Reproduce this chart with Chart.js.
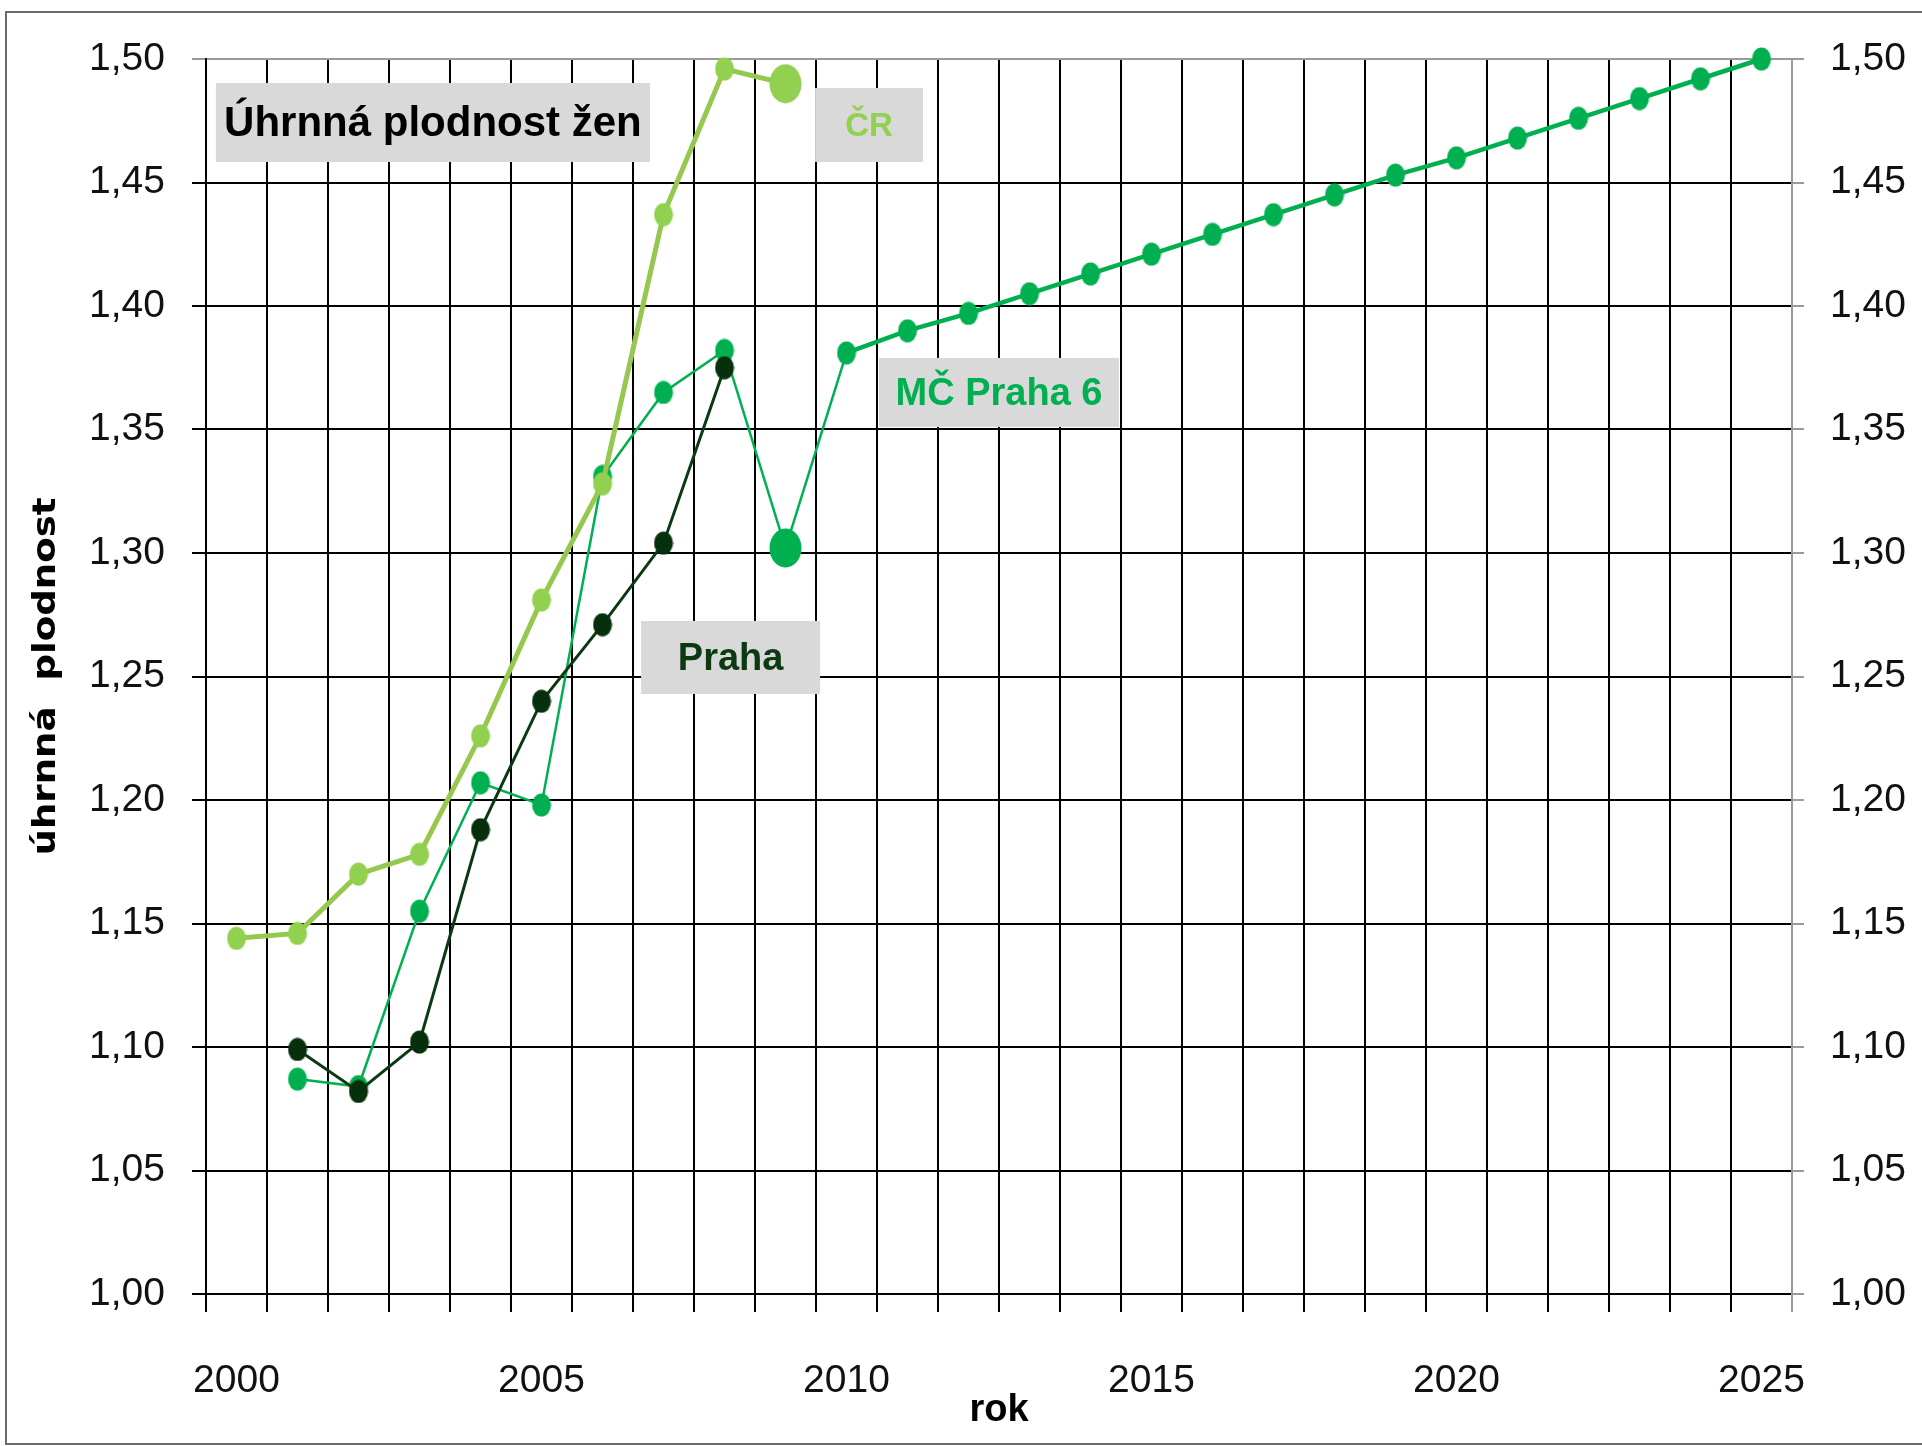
<!DOCTYPE html>
<html lang="cs">
<head>
<meta charset="utf-8">
<title>Úhrnná plodnost žen</title>
<script src="https://cdn.jsdelivr.net/npm/chart.js@4.4.0/dist/chart.umd.min.js"></script>
<style>
  html, body { margin: 0; padding: 0; background: #fff; }
  #obal { position: relative; width: 1922px; height: 1446px; }
</style>
</head>
<body>
<div id="obal"><canvas id="graf"></canvas></div>
<script>
// Roky na ose x
var roky = [2000, 2001, 2002, 2003, 2004, 2005, 2006, 2007, 2008, 2009,
  2010, 2011, 2012, 2013, 2014, 2015, 2016, 2017, 2018, 2019,
  2020, 2021, 2022, 2023, 2024, 2025];

// Úhrnná plodnost - ČR
var plodnostCR = [1.144, 1.146, 1.170, 1.178, 1.226, 1.281, 1.328, 1.437, 1.496, 1.490,
  null, null, null, null, null, null, null, null, null, null,
  null, null, null, null, null, null];

// Úhrnná plodnost - Praha
var plodnostPraha = [null, 1.099, 1.082, 1.102, 1.188, 1.240, 1.271, 1.304, 1.375, null,
  null, null, null, null, null, null, null, null, null, null,
  null, null, null, null, null, null];

// Úhrnná plodnost - MČ Praha 6 (od roku 2010 prognóza)
var plodnostPraha6 = [null, 1.087, 1.084, 1.155, 1.207, 1.198, 1.331, 1.365, 1.382, 1.302,
  1.381, 1.390, 1.397, 1.405, 1.413, 1.421, 1.429, 1.437, 1.445, 1.453,
  1.460, 1.468, 1.476, 1.484, 1.492, 1.500];

// Rozsah osy y
var osaYMin = 1.0;
var osaYMax = 1.5;
var osaYKrok = 0.05;

var PISMO = "'Liberation Sans', Arial, sans-serif";

// Elipsa jako značka bodu (Excel je mírně protáhl)
function elipsa(barva, sirka, vyska) {
  var c = document.createElement("canvas");
  c.width = sirka;
  c.height = vyska;
  var g = c.getContext("2d");
  g.fillStyle = barva;
  g.beginPath();
  g.ellipse(sirka / 2, vyska / 2, sirka / 2 - 0.5, vyska / 2 - 0.5, 0, 0, Math.PI * 2);
  g.fill();
  return c;
}

function znacky(data, barva, velkyRok) {
  var mala = elipsa(barva, 20, 24);
  var velka = elipsa(barva, 33, 40);
  return data.map(function (v, i) {
    return roky[i] === velkyRok ? velka : mala;
  });
}

function formatCisla(v) {
  return Number(v).toFixed(2).replace(".", ",");
}

// Šedé rámečky s popisky (poloha v souřadnicích grafu)
var stitky = [
  { text: "Úhrnná plodnost žen", barva: "#000000", x: 3.22, y: 1.4743, w: 434, h: 79, pismo: "bold 42px " + PISMO },
  { text: "ČR", barva: "#92d050", x: 10.37, y: 1.4733, w: 108, h: 74, pismo: "bold 33px " + PISMO },
  { text: "MČ Praha 6", barva: "#00b050", x: 12.5, y: 1.365, w: 240, h: 69, pismo: "bold 38px " + PISMO },
  { text: "Praha", barva: "#0b3a12", x: 8.1, y: 1.2577, w: 179, h: 73, pismo: "bold 38px " + PISMO }
];

var pluginStitky = {
  id: "stitky",
  beforeDatasetsDraw: function (chart) {
    var ctx = chart.ctx;
    var sx = chart.scales.x;
    var sy = chart.scales.y;
    ctx.save();
    stitky.forEach(function (s) {
      var cx = sx.getPixelForValue(s.x);
      var cy = sy.getPixelForValue(s.y);
      ctx.fillStyle = "#d9d9d9";
      ctx.fillRect(cx - s.w / 2, cy - s.h / 2, s.w, s.h);
      ctx.fillStyle = s.barva;
      ctx.font = s.pismo;
      ctx.textAlign = "center";
      ctx.textBaseline = "middle";
      ctx.fillText(s.text, cx, cy + 2);
    });
    ctx.restore();
  }
};

// Svislý popis osy y a rámeček kolem celého obrázku
var pluginOkraj = {
  id: "okraj",
  afterDraw: function (chart) {
    var ctx = chart.ctx;
    var a = chart.chartArea;
    ctx.save();
    ctx.translate(47, (a.top + a.bottom) / 2);
    ctx.rotate(-Math.PI / 2);
    ctx.scale(1.16, 1);
    ctx.fillStyle = "#000";
    ctx.font = "bold 32px 'DejaVu Sans', sans-serif";
    ctx.textAlign = "center";
    ctx.textBaseline = "middle";
    ctx.fillText("úhrnná  plodnost", 0, 0);
    ctx.restore();

    ctx.save();
    ctx.strokeStyle = "#6b6b6b";
    ctx.lineWidth = 2;
    ctx.strokeRect(6, 12, 1930, 1432);
    ctx.restore();
  }
};

var ctx = document.getElementById("graf").getContext("2d");
var graf = new Chart(ctx, {
  type: "line",
  data: {
    labels: roky.map(String),
    datasets: [
      {
        label: "ČR",
        data: plodnostCR,
        borderColor: "#96c850",
        borderWidth: 5,
        pointStyle: znacky(plodnostCR, "#92d050", 2009),
        clip: false
      },
      {
        label: "Praha",
        data: plodnostPraha,
        borderColor: "#0b3a12",
        borderWidth: 3,
        pointStyle: znacky(plodnostPraha, "#06300c", 2009),
        clip: false
      },
      {
        label: "MČ Praha 6",
        data: plodnostPraha6,
        borderColor: "#00b050",
        borderWidth: 3,
        pointStyle: znacky(plodnostPraha6, "#00b050", 2009),
        segment: {
          borderWidth: function (c) {
            return roky[c.p0DataIndex] >= 2010 ? 4.5 : 2.5;
          }
        },
        clip: false
      }
    ]
  },
  options: {
    responsive: true,
    maintainAspectRatio: false,
    animation: false,
    events: [],
    layout: { padding: { top: 59, left: 0, right: 0, bottom: 0 } },
    plugins: {
      legend: { display: false },
      tooltip: { enabled: false }
    },
    scales: {
      x: {
        type: "category",
        offset: true,
        grid: {
          offset: true,
          color: function (c) { return c.type === "tick" ? "#000" : "#9a9a9a"; },
          lineWidth: 2,
          tickLength: 18
        },
        border: { display: true, color: "#000", width: 2 },
        ticks: {
          autoSkip: false,
          maxRotation: 0,
          color: "#111",
          padding: 46,
          font: { family: PISMO, size: 39 },
          callback: function (v, i) {
            return roky[i] % 5 === 0 ? String(roky[i]) : "";
          }
        },
        title: {
          display: true,
          text: "rok",
          color: "#000",
          font: { family: PISMO, size: 38, weight: "bold" },
          padding: { top: 0, bottom: 13 }
        },
        afterFit: function (s) { s.height = 1446 - 1294; }
      },
      y: {
        position: "left",
        min: osaYMin,
        max: osaYMax,
        grid: {
          color: function (c) { return c.tick && c.tick.value > 1.499 ? "#9a9a9a" : "#000"; },
          lineWidth: 2,
          tickLength: 14
        },
        border: { display: true, color: "#000", width: 2 },
        ticks: {
          stepSize: osaYKrok,
          color: "#111",
          padding: 27,
          font: { family: PISMO, size: 39 },
          callback: formatCisla
        },
        afterFit: function (s) { s.width = 206; }
      },
      y2: {
        position: "right",
        min: osaYMin,
        max: osaYMax,
        grid: {
          drawOnChartArea: false,
          color: "#9a9a9a",
          lineWidth: 2,
          tickLength: 12
        },
        border: { display: true, color: "#9a9a9a", width: 2 },
        ticks: {
          stepSize: osaYKrok,
          color: "#111",
          padding: 26,
          font: { family: PISMO, size: 39 },
          callback: formatCisla
        },
        afterFit: function (s) { s.width = 1922 - 1792; }
      }
    }
  },
  plugins: [pluginStitky, pluginOkraj]
});
</script>
</body>
</html>
